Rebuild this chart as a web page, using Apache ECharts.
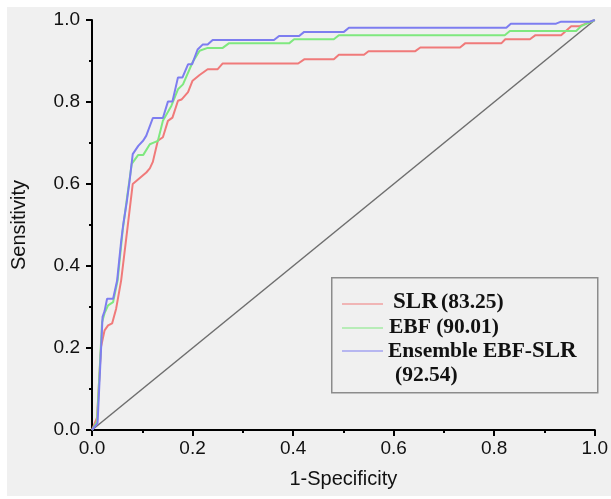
<!DOCTYPE html>
<html>
<head>
<meta charset="utf-8">
<script src="https://cdn.jsdelivr.net/npm/echarts@6/dist/echarts.min.js"></script>
<style>
html,body{margin:0;padding:0;background:#ffffff;}
#bg{position:absolute;left:7px;top:7px;width:604px;height:489px;background:#f0f0f0;}
#chart{position:absolute;left:0;top:0;width:611px;height:499px;}
</style>
</head>
<body>
<div id="bg"></div>
<div id="chart"></div>
<script>
// ---- data ----
const xTicks = [0, 0.2, 0.4, 0.6, 0.8, 1.0];
const yTicks = [0, 0.2, 0.4, 0.6, 0.8, 1.0];

const seriesNames = ['SLR (83.25)', 'EBF (90.01)', 'Ensemble EBF-SLR (92.54)'];

const diagonal = [[0, 0], [1, 1]];

const slr = [
  [0,0],[0.01,0.03],[0.018,0.203],[0.025,0.243],[0.032,0.255],[0.04,0.26],[0.048,0.296],
  [0.058,0.365],[0.07,0.487],[0.081,0.60],[0.108,0.628],[0.115,0.638],[0.121,0.654],
  [0.131,0.706],[0.141,0.714],[0.151,0.754],[0.16,0.762],[0.171,0.803],[0.178,0.806],
  [0.191,0.824],[0.2,0.852],[0.214,0.866],[0.23,0.88],[0.25,0.88],[0.26,0.894],
  [0.41,0.894],[0.422,0.904],[0.481,0.904],[0.491,0.915],[0.541,0.915],[0.55,0.924],
  [0.643,0.924],[0.653,0.933],[0.732,0.933],[0.742,0.943],[0.814,0.943],[0.822,0.953],
  [0.871,0.953],[0.882,0.963],[0.933,0.963],[0.953,0.985],[0.97,0.985],[1,1]
];

const ebf = [
  [0,0],[0.01,0.02],[0.02,0.263],[0.025,0.285],[0.032,0.304],[0.042,0.312],[0.051,0.365],
  [0.061,0.487],[0.07,0.57],[0.079,0.649],[0.092,0.671],[0.102,0.671],[0.115,0.697],
  [0.125,0.702],[0.131,0.705],[0.141,0.754],[0.158,0.791],[0.171,0.831],[0.181,0.843],
  [0.2,0.897],[0.214,0.925],[0.23,0.932],[0.26,0.932],[0.272,0.943],[0.392,0.943],
  [0.402,0.953],[0.481,0.953],[0.491,0.963],[0.821,0.963],[0.831,0.973],[0.963,0.973],
  [0.973,0.985],[1,1]
];

const ensemble = [
  [0,0],[0.011,0.016],[0.021,0.276],[0.025,0.29],[0.03,0.32],[0.042,0.32],[0.05,0.365],
  [0.058,0.46],[0.062,0.50],[0.069,0.555],[0.075,0.61],[0.081,0.673],[0.092,0.693],
  [0.102,0.706],[0.108,0.718],[0.121,0.761],[0.141,0.761],[0.151,0.801],[0.160,0.801],
  [0.171,0.86],[0.180,0.86],[0.191,0.892],[0.199,0.892],[0.21,0.928],[0.22,0.94],
  [0.23,0.94],[0.24,0.951],[0.362,0.951],[0.372,0.961],[0.412,0.961],[0.422,0.971],
  [0.501,0.971],[0.511,0.981],[0.824,0.981],[0.833,0.991],[0.923,0.991],[0.933,0.996],
  [0.99,0.996],[1,1]
];

const colors = ['#f07a7a', '#7fe87f', '#7d7df0'];

// ---- chart ----
const chart = echarts.init(document.getElementById('chart'), null, {renderer: 'canvas'});
const axisFont = 'Liberation Sans, Arial, sans-serif';
const serif = 'Liberation Serif, Times New Roman, serif';

function axisCommon(name, isY) {
  return {
    type: 'value',
    min: xTicks[0],
    max: xTicks[xTicks.length - 1],
    interval: 0.2,
    name: name,
    nameLocation: 'middle',
    nameGap: isY ? 63 : 39,
    nameTextStyle: {fontFamily: axisFont, fontSize: 20, color: '#111'},
    axisLine: {show: true, onZero: false, lineStyle: {color: '#000', width: 2}},
    axisTick: {show: true, length: 6, lineStyle: {color: '#000', width: 2}},
    minorTick: {show: true, splitNumber: 2, length: 3, lineStyle: {color: '#000', width: 2}},
    splitLine: {show: false},
    axisLabel: {
      fontFamily: axisFont, fontSize: 19, color: '#111', margin: isY ? 12 : 9,
      formatter: v => v.toFixed(1)
    }
  };
}

const legendX = 331, legendY = 277, legendW = 266, legendH = 115;

chart.setOption({
  animation: false,
  backgroundColor: 'transparent',
  grid: {left: 92, right: 14, top: 20, bottom: 69, containLabel: false},
  xAxis: axisCommon('1-Specificity', false),
  yAxis: axisCommon('Sensitivity', true),
  series: [
    {type: 'line', data: diagonal, symbol: 'none', silent: true,
     lineStyle: {color: '#6e6e6e', width: 1.5}},
    {type: 'line', name: seriesNames[0], data: slr, symbol: 'none',
     lineStyle: {color: colors[0], width: 2}},
    {type: 'line', name: seriesNames[1], data: ebf, symbol: 'none',
     lineStyle: {color: colors[1], width: 2}},
    {type: 'line', name: seriesNames[2], data: ensemble, symbol: 'none',
     lineStyle: {color: colors[2], width: 2}}
  ],
  graphic: [
    {type: 'rect', left: legendX, top: legendY, z: 10,
     shape: {width: legendW, height: legendH},
     style: {fill: '#f0f0f0', stroke: '#8c8c8c', lineWidth: 1.5}},
    {type: 'line', z: 11, shape: {x1: 342, y1: 304, x2: 383, y2: 304},
     style: {stroke: colors[0], lineWidth: 1}},
    {type: 'line', z: 11, shape: {x1: 342, y1: 328, x2: 383, y2: 328},
     style: {stroke: colors[1], lineWidth: 1}},
    {type: 'line', z: 11, shape: {x1: 342, y1: 351, x2: 383, y2: 351},
     style: {stroke: colors[2], lineWidth: 1}},
    {type: 'text', z: 11, left: 393, top: 291,
     style: {text: '{a|SLR} {b|(83.25)}', rich: {
       a: {fontFamily: serif, fontSize: 23, fontWeight: 'bold', fill: '#111'},
       b: {fontFamily: serif, fontSize: 21.5, fontWeight: 'bold', fill: '#111'}}}},
    {type: 'text', z: 11, left: 389, top: 316,
     style: {text: 'EBF (90.01)', font: 'bold 21.5px ' + serif, fill: '#111'}},
    {type: 'text', z: 11, left: 388, top: 340,
     style: {text: '{b|Ensemble EBF-}{a|SLR}', rich: {
       a: {fontFamily: serif, fontSize: 23, fontWeight: 'bold', fill: '#111'},
       b: {fontFamily: serif, fontSize: 21.5, fontWeight: 'bold', fill: '#111'}}}},
    {type: 'text', z: 11, left: 395, top: 364,
     style: {text: '(92.54)', font: 'bold 21.5px ' + serif, fill: '#111'}}
  ]
});
</script>
</body>
</html>
